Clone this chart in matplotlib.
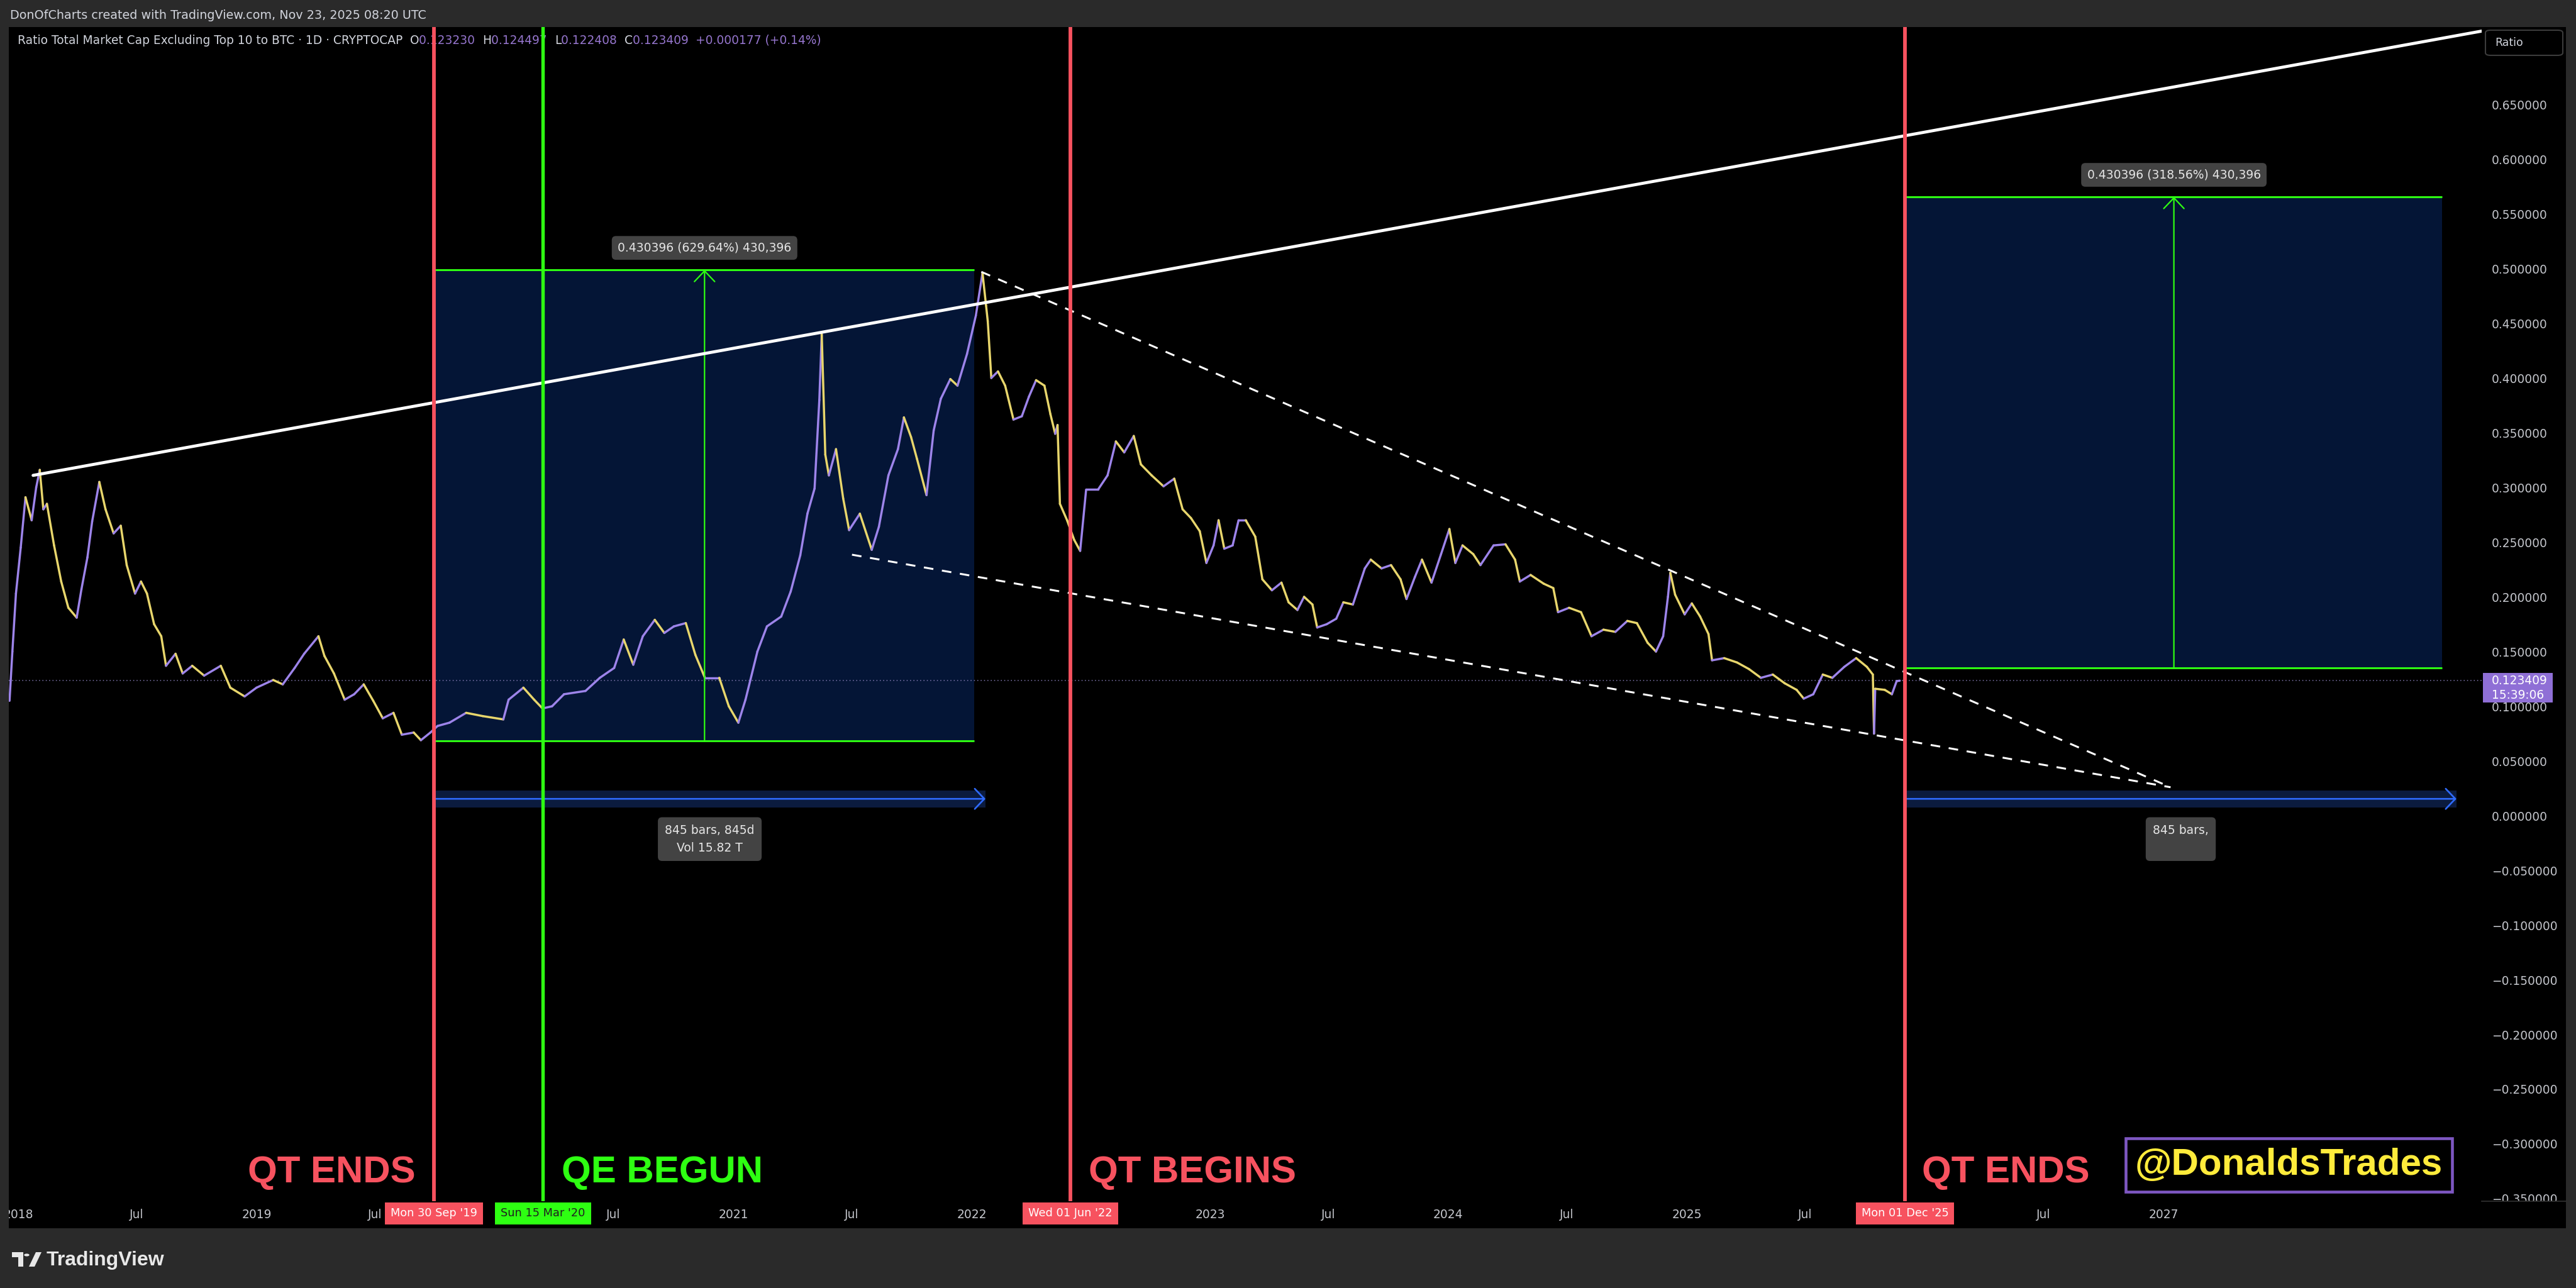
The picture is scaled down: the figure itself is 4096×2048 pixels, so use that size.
import numpy as np
import matplotlib
matplotlib.use("Agg")
import matplotlib.pyplot as plt
import matplotlib.dates as mdates
from matplotlib.collections import LineCollection
from matplotlib.patches import Rectangle, FancyBboxPatch, Polygon, Circle
from matplotlib.transforms import Bbox, TransformedBbox, IdentityTransform
from matplotlib.ticker import FixedLocator, FixedFormatter, FuncFormatter
from matplotlib.lines import Line2D

# ---------------- data ----------------
t_years = [
    2017.963, 2017.975, 2017.990, 2018.010, 2018.030, 2018.056, 2018.075, 2018.090, 2018.105, 2018.120,
    2018.150, 2018.180, 2018.210, 2018.245, 2018.265, 2018.290, 2018.310, 2018.340, 2018.366, 2018.400,
    2018.430, 2018.455, 2018.490, 2018.515, 2018.540, 2018.570, 2018.600, 2018.620, 2018.660, 2018.690,
    2018.730, 2018.780, 2018.850, 2018.890, 2018.950, 2019.000, 2019.070, 2019.110, 2019.160, 2019.200,
    2019.260, 2019.285, 2019.325, 2019.370, 2019.410, 2019.450, 2019.490, 2019.530, 2019.575, 2019.610,
    2019.660, 2019.690, 2019.730, 2019.760, 2019.810, 2019.880, 2019.950, 2020.036, 2020.058, 2020.120,
    2020.165, 2020.200, 2020.240, 2020.290, 2020.380, 2020.440, 2020.500, 2020.540, 2020.580, 2020.620,
    2020.670, 2020.710, 2020.750, 2020.800, 2020.840, 2020.880, 2020.940, 2020.980, 2021.020, 2021.050,
    2021.100, 2021.140, 2021.200, 2021.240, 2021.280, 2021.310, 2021.340, 2021.360, 2021.370, 2021.385,
    2021.400, 2021.430, 2021.460, 2021.485, 2021.530, 2021.580, 2021.610, 2021.650, 2021.690, 2021.715,
    2021.745, 2021.770, 2021.810, 2021.840, 2021.870, 2021.910, 2021.940, 2021.980, 2022.017, 2022.045,
    2022.060, 2022.067, 2022.082, 2022.110, 2022.140, 2022.175, 2022.210, 2022.240, 2022.270, 2022.305,
    2022.330, 2022.350, 2022.360, 2022.370, 2022.400, 2022.430, 2022.455, 2022.480, 2022.530, 2022.570,
    2022.605, 2022.640, 2022.680, 2022.710, 2022.755, 2022.805, 2022.850, 2022.885, 2022.920, 2022.957,
    2022.985, 2023.015, 2023.036, 2023.060, 2023.095, 2023.120, 2023.150, 2023.190, 2023.220, 2023.260,
    2023.300, 2023.330, 2023.367, 2023.395, 2023.430, 2023.450, 2023.490, 2023.530, 2023.560, 2023.600,
    2023.650, 2023.675, 2023.720, 2023.760, 2023.800, 2023.825, 2023.860, 2023.890, 2023.930, 2023.970,
    2024.005, 2024.030, 2024.060, 2024.105, 2024.135, 2024.190, 2024.240, 2024.280, 2024.300, 2024.345,
    2024.400, 2024.440, 2024.460, 2024.506, 2024.556, 2024.600, 2024.650, 2024.700, 2024.750, 2024.790,
    2024.835, 2024.870, 2024.900, 2024.920, 2024.930, 2024.950, 2024.990, 2025.020, 2025.055, 2025.090,
    2025.105, 2025.156, 2025.210, 2025.260, 2025.310, 2025.360, 2025.410, 2025.460, 2025.490, 2025.530,
    2025.570, 2025.610, 2025.660, 2025.710, 2025.755, 2025.780, 2025.785, 2025.790, 2025.830, 2025.860,
    2025.880, 2025.893,
]
ratio = [
    0.105, 0.150, 0.203, 0.245, 0.291, 0.270, 0.300, 0.316, 0.280, 0.285,
    0.247, 0.214, 0.190, 0.181, 0.207, 0.236, 0.269, 0.305, 0.280, 0.258,
    0.265, 0.229, 0.203, 0.214, 0.203, 0.175, 0.164, 0.137, 0.148, 0.130,
    0.137, 0.128, 0.137, 0.117, 0.109, 0.117, 0.124, 0.120, 0.135, 0.148,
    0.164, 0.146, 0.130, 0.106, 0.111, 0.120, 0.105, 0.089, 0.094, 0.074,
    0.076, 0.069, 0.076, 0.082, 0.085, 0.094, 0.091, 0.088, 0.106, 0.117,
    0.106, 0.098, 0.100, 0.111, 0.114, 0.126, 0.135, 0.161, 0.138, 0.164,
    0.179, 0.167, 0.173, 0.176, 0.147, 0.126, 0.126, 0.100, 0.085, 0.106,
    0.150, 0.173, 0.182, 0.205, 0.238, 0.276, 0.299, 0.380, 0.440, 0.330,
    0.311, 0.335, 0.290, 0.261, 0.276, 0.243, 0.264, 0.311, 0.335, 0.364,
    0.346, 0.326, 0.293, 0.352, 0.381, 0.399, 0.393, 0.422, 0.457, 0.496,
    0.466, 0.452, 0.400, 0.406, 0.393, 0.362, 0.365, 0.383, 0.398, 0.393,
    0.367, 0.349, 0.357, 0.285, 0.270, 0.252, 0.242, 0.298, 0.298, 0.311,
    0.342, 0.332, 0.347, 0.321, 0.311, 0.301, 0.308, 0.280, 0.272, 0.260,
    0.231, 0.247, 0.270, 0.244, 0.247, 0.270, 0.270, 0.255, 0.216, 0.206,
    0.213, 0.195, 0.188, 0.200, 0.193, 0.172, 0.175, 0.180, 0.195, 0.193,
    0.226, 0.234, 0.226, 0.229, 0.216, 0.198, 0.218, 0.234, 0.213, 0.239,
    0.262, 0.231, 0.247, 0.239, 0.229, 0.247, 0.248, 0.234, 0.214, 0.220,
    0.212, 0.208, 0.186, 0.190, 0.186, 0.164, 0.170, 0.168, 0.178, 0.176,
    0.158, 0.150, 0.164, 0.200, 0.222, 0.202, 0.184, 0.194, 0.182, 0.166,
    0.142, 0.144, 0.140, 0.134, 0.126, 0.129, 0.121, 0.115, 0.107, 0.111,
    0.129, 0.126, 0.136, 0.144, 0.136, 0.129, 0.075, 0.116, 0.115, 0.111,
    0.123, 0.1234,
]

header_text = "DonOfCharts created with TradingView.com, Nov 23, 2025 08:20 UTC"
series_title = "Ratio Total Market Cap Excluding Top 10 to BTC \u00b7 1D \u00b7 CRYPTOCAP"
ohlc_keys = ["O", "H", "L", "C"]
ohlc_vals = [0.123230, 0.124497, 0.122408, 0.123409]
chg_abs = 0.000177
chg_pct = 0.14
last_price = 0.123409
countdown = "15:39:06"

event_dates = ["2019-09-30", "2020-03-15", "2022-06-01", "2025-12-01"]
event_tags = ["Mon 30 Sep '19", "Sun 15 Mar '20", "Wed 01 Jun '22", "Mon 01 Dec '25"]
event_kind = ["qt", "qe", "qt", "qt"]
phase_text = ["QT ENDS", "QE BEGUN", "QT BEGINS", "QT ENDS"]
handle_text = "@DonaldsTrades"

box_start = ["2019-10-01", "2025-12-02"]
box_end = ["2022-01-05", "2028-03-03"]
box_low = [0.068360, 0.135100]
box_high = [0.498756, 0.565496]
box_text = ["0.430396 (629.64%) 430,396", "0.430396 (318.56%) 430,396"]

range_start = ["2019-09-30", "2025-12-01"]
range_end = ["2022-01-22", "2028-03-25"]
range_text = ["845 bars, 845d\nVol 15.82 T", "845 bars,\n "]

trend_main_t = [2018.062, 2028.335]
trend_main_v = [0.311, 0.717]
trend_upper_t = [2022.040, 2027.030]
trend_upper_v = [0.497, 0.026]
trend_lower_t = [2021.497, 2027.030]
trend_lower_v = [0.2385, 0.026]

y_tick_vals = [0.65, 0.60, 0.55, 0.50, 0.45, 0.40, 0.35, 0.30, 0.25, 0.20, 0.15, 0.10,
               0.05, 0.0, -0.05, -0.10, -0.15, -0.20, -0.25, -0.30, -0.35]
# time-scale labels that stay visible (the others sit under the date tags)
x_tick_dates = ["2018-01-01", "2018-07-01", "2019-01-01", "2019-07-01", "2020-07-01",
                "2021-01-01", "2021-07-01", "2022-01-01", "2023-01-01", "2023-07-01",
                "2024-01-01", "2024-07-01", "2025-01-01", "2025-07-01", "2026-07-01",
                "2027-01-01"]
x_tick_labels = ["2018", "Jul", "2019", "Jul", "Jul", "2021", "Jul", "2022", "2023", "Jul",
                 "2024", "Jul", "2025", "Jul", "Jul", "2027"]


# ---------------- helpers ----------------
def yf2num(y):
    yr = int(np.floor(y))
    a = mdates.date2num(np.datetime64(f"{yr}-01-01"))
    b = mdates.date2num(np.datetime64(f"{yr + 1}-01-01"))
    return a + (b - a) * (y - yr)


def d2n(s):
    return mdates.date2num(np.datetime64(s))


W, H = 4096, 2048
BG = "#2a2a2a"
RED = "#f7525f"
GREEN = "#2eff12"
BOXFILL = "#041536"
BLUE = "#2f6bff"
BAND = "#0b1b3e"
LAV = "#9d84ea"
YEL = "#e8d66c"
TXT = "#d1d4dc"
TICK = "#c4c6cc"
PURPLE = "#9575cd"

fig = plt.figure(figsize=(W / 100, H / 100), dpi=100, facecolor=BG)

# black chart panel
fig.patches.append(Rectangle((14 / W, 1 - 1953 / H), (4080 - 14) / W, (1953 - 43) / H,
                             transform=fig.transFigure, facecolor="black", edgecolor="none", zorder=-1))
fig.lines.append(Line2D([3946 / W, 4080 / W], [1 - 1910 / H, 1 - 1910 / H], transform=fig.transFigure,
                        color="#333333", lw=1.2, zorder=1))

ax = fig.add_axes([14 / W, 1 - 1910 / H, (3946 - 14) / W, (1910 - 43) / H])
ax.set_facecolor("black")
for s in ax.spines.values():
    s.set_visible(False)

ax.set_xlim(yf2num(2017.96), yf2num(2028.335))
ax.set_ylim(-0.3523, 0.7207)

# ticks
ax.xaxis.set_major_locator(FixedLocator([d2n(d) for d in x_tick_dates]))
ax.xaxis.set_major_formatter(FixedFormatter(x_tick_labels))
ax.yaxis.tick_right()
ax.yaxis.set_major_locator(FixedLocator(y_tick_vals))
ax.yaxis.set_major_formatter(FuncFormatter(lambda v, p: f"{v:.6f}".replace("-", "\u2212")))
ax.tick_params(axis="x", length=0, pad=8.5, labelsize=13.5, labelcolor=TICK)
ax.tick_params(axis="y", length=0, pad=11.5, labelsize=13.4, labelcolor=TICK)
for lab in ax.get_yticklabels():
    lab.set_horizontalalignment("left")

# price range boxes
for s0, s1, lo, hi, txt in zip(box_start, box_end, box_low, box_high, box_text):
    x0, x1 = d2n(s0), d2n(s1)
    ax.add_patch(Rectangle((x0, lo), x1 - x0, hi - lo, facecolor=BOXFILL, edgecolor="none", zorder=1))
    ax.hlines([lo, hi], x0, x1, colors=GREEN, lw=2.2, zorder=3)
    xm = (x0 + x1) / 2
    ax.annotate("", xy=(xm, hi), xytext=(xm, lo),
                arrowprops=dict(arrowstyle="->,head_length=0.42,head_width=0.4", color=GREEN, lw=1.6,
                                shrinkA=0, shrinkB=0, mutation_scale=29), zorder=3)
    ax.annotate(txt, xy=(xm, hi), xytext=(0, 35), textcoords="offset pixels", ha="center", va="center",
                fontsize=13.5, color="#e6e6e6", zorder=8,
                bbox=dict(boxstyle="round,pad=0.5,rounding_size=0.35", fc="#434343", ec="none"))

# date ranges
range_level = 0.0154
band_half = 0.0078
for s0, s1, txt in zip(range_start, range_end, range_text):
    x0, x1 = d2n(s0), d2n(s1)
    ax.fill_between([x0, x1], range_level - band_half, range_level + band_half, color=BAND, lw=0, zorder=1)
    ax.annotate("", xy=(x1, range_level), xytext=(x0, range_level),
                arrowprops=dict(arrowstyle="->,head_length=0.38,head_width=0.4", color=BLUE, lw=1.9,
                                shrinkA=0, shrinkB=0, mutation_scale=29), zorder=3)
    ax.plot([x0, x0], [range_level - 0.0085, range_level + 0.0085], color=BLUE, lw=1.9, zorder=3)
    ax.annotate(txt, xy=((x0 + x1) / 2, range_level), xytext=(0, -64), textcoords="offset pixels",
                ha="center", va="center", multialignment="center", linespacing=1.6,
                fontsize=13.5, color="#e6e6e6", zorder=8,
                bbox=dict(boxstyle="round,pad=0.6,rounding_size=0.35", fc="#434343", ec="none"))

# last price dotted line
ax.axhline(last_price, color="#7f76ad", lw=1.1, ls=(0, (1, 2.5)), zorder=1.5)

# price series
xs = np.array([yf2num(t) for t in t_years])
vals = np.array(ratio)
pts = np.column_stack([xs, vals])
segs = np.stack([pts[:-1], pts[1:]], axis=1)
seg_colors = [LAV if d >= 0 else YEL for d in np.diff(vals)]
ax.add_collection(LineCollection(segs, colors=seg_colors, linewidths=2.5, zorder=2, capstyle="round"))

# trend lines
ax.plot([yf2num(t) for t in trend_main_t], trend_main_v, color="white", lw=3.5, zorder=4,
        solid_capstyle="round")
ax.plot([yf2num(t) for t in trend_upper_t], trend_upper_v, color="white", lw=2.2, zorder=4,
        dashes=(5, 4.5))
ax.plot([yf2num(t) for t in trend_lower_t], trend_lower_v, color="white", lw=2.2, zorder=4,
        dashes=(5, 4.5))

# event lines + tags
for d, tag, kind in zip(event_dates, event_tags, event_kind):
    col = GREEN if kind == "qe" else RED
    ax.axvline(d2n(d), color=col, lw=4.2 if kind == "qt" else 3.9, zorder=5)
    ax.annotate(tag, xy=(d2n(d), 0), xycoords=("data", "axes fraction"), xytext=(0, -19.5),
                textcoords="offset pixels", ha="center", va="center", fontsize=12.8,
                color="#1f1f1f" if kind == "qe" else "white", annotation_clip=False, zorder=9,
                bbox=dict(boxstyle="square,pad=0.5", fc=col, ec="none"))

# big phase labels
phase_x = [2019.314, 2020.702, 2022.926, 2026.339]
phase_col = [RED, GREEN, RED, RED]
for tx, txt, c in zip(phase_x, phase_text, phase_col):
    ax.text(yf2num(tx), -0.335, txt, ha="center", va="baseline", fontsize=43.2, fontweight="bold",
            family=["Liberation Sans", "DejaVu Sans"], color=c, zorder=8)
ax.text(yf2num(2027.526), -0.319, handle_text, ha="center", va="center", fontsize=43.2, fontweight="bold",
        family=["Liberation Sans", "DejaVu Sans"], color="#ffeb3b", zorder=8,
        bbox=dict(boxstyle="square,pad=0.25", fc="black", ec="#7e57c2", lw=3.3))

# legend row (rainbow text)
LEG_FS = 13.4
pieces = [(series_title + "  ", TXT)]
for k, v in zip(ohlc_keys, ohlc_vals):
    pieces.append((k, TXT))
    pieces.append((f"{v:.6f}  ", PURPLE))
pieces.append((f"+{chg_abs:.6f} (+{chg_pct:.2f}%)", PURPLE))
prev = fig.text(28 / W, 1 - 74 / H, pieces[0][0], color=pieces[0][1], fontsize=LEG_FS, va="bottom", zorder=3)
for s, c in pieces[1:]:
    prev = ax.annotate(s, xy=(1, 0), xycoords=prev, va="bottom", ha="left", color=c, fontsize=LEG_FS,
                       annotation_clip=False, zorder=3)

# header
fig.text(16 / W, 1 - 25 / H, header_text, color=TXT, fontsize=13.8, va="center", ha="left")


# footer logo + wordmark
def P(x, y):
    return (x / W, 1 - y / H)


fig.patches.append(Polygon([P(19, 1991), P(37, 1991), P(37, 2014), P(29, 2014), P(29, 1999), P(19, 1999)],
                           closed=True, transform=fig.transFigure, fc="#e8e8e8", ec="none", zorder=2))
fig.patches.append(Circle(P(42.5, 1995.5), 4.2 / W, transform=fig.transFigure, fc="#e8e8e8", ec="none",
                          zorder=2))
fig.patches.append(Polygon([P(46, 2014), P(55, 2014), P(66, 1991), P(57, 1991)], closed=True,
                           transform=fig.transFigure, fc="#e8e8e8", ec="none", zorder=2))
fig.text(74 / W, 1 - 2004 / H, "TradingView", fontsize=23, fontweight="bold",
         family=["Liberation Sans", "DejaVu Sans"], color="#e8e8e8", va="center", ha="left")

# "Ratio" scale box
fig.patches.append(FancyBboxPatch((3952 / W, 1 - 88 / H), 123 / W, 40 / H,
                                  boxstyle="round,pad=0,rounding_size=0.002", transform=fig.transFigure,
                                  fc="black", ec="#3c3c3c", lw=1.5, zorder=3))
fig.text(3967 / W, 1 - 68 / H, "Ratio", fontsize=12.5, color=TXT, va="center", ha="left", zorder=4)

# last price tag on scale
fig.canvas.draw()
yd = ax.transData.transform((ax.get_xlim()[0], last_price))[1]
fig.patches.append(Rectangle((3948 / W, (yd - 35) / H), 111 / W, 47 / H, transform=fig.transFigure,
                             fc="#8f6fd6", ec="none", zorder=3))
fig.text(3962 / W, yd / H, f"{last_price:.6f}", fontsize=13.4, color="white", va="center", ha="left",
         zorder=4)
fig.text(3962 / W, (yd - 23) / H, countdown, fontsize=13.4, color="white", va="center", ha="left",
         zorder=4)

# clip tick labels to the panel like the original
clip_y = TransformedBbox(Bbox([[3946, 2048 - 1910], [4096, 2048]]), IdentityTransform())
clip_x = TransformedBbox(Bbox([[14, 0], [3946, 2048]]), IdentityTransform())
for tk in ax.yaxis.get_major_ticks():
    for lab in (tk.label1, tk.label2):
        lab.set_clip_box(clip_y)
        lab.set_clip_on(True)
for tk in ax.xaxis.get_major_ticks():
    tk.label1.set_clip_box(clip_x)
    tk.label1.set_clip_on(True)

fig.savefig("out.png", dpi=100, facecolor=BG)
